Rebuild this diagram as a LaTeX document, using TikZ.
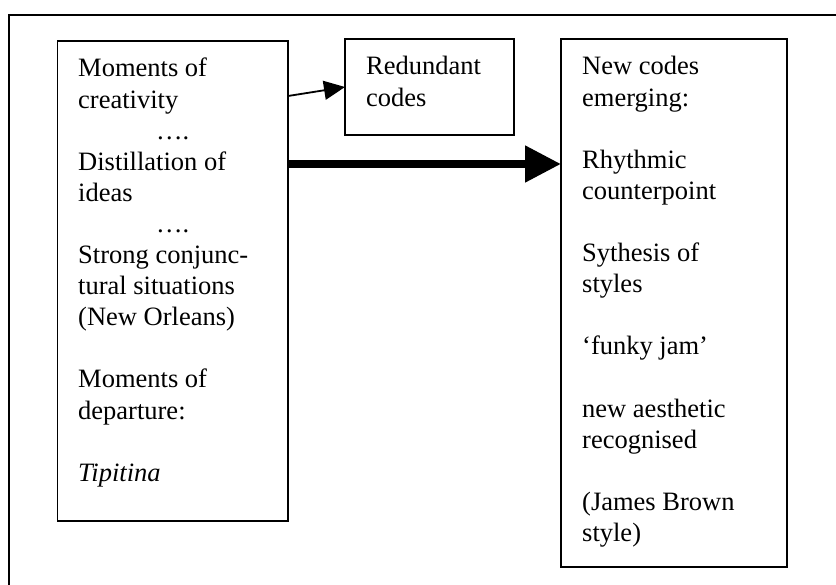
\documentclass[tikz,border=0pt]{standalone}
\usepackage{fontspec}
\setmainfont{Liberation Serif}
\usetikzlibrary{arrows.meta}
% stack of left-aligned lines, baseline at the first line
\newcommand\linestack[1]{\vtop{\halign{##\hfil\cr#1\crcr}}}
\tikzset{
  panel/.style={draw, line width=1.8pt, inner sep=0pt, outer sep=0pt, anchor=north west},
  txt/.style={anchor=base west, inner sep=0pt, font=\fontsize{26.5pt}{31.1pt}\selectfont},
  thinarrow/.style={line width=1.8pt, -{Triangle[length=21pt,width=19pt]}},
  thickarrow/.style={line width=8pt, -{Triangle[length=36pt,width=35pt]}}
}
\begin{document}
\begin{tikzpicture}[x=1pt,y=-1pt]
\useasboundingbox (0,0) rectangle (836,585);
% outer frame (runs off the page at right and bottom)
\draw[line width=1.8pt] (9,585) -- (9,15) -- (836,15);

% boxes
\node[panel, minimum width=230.5pt, minimum height=480pt] (L) at (57.5,41) {};
\node[panel, minimum width=169pt, minimum height=96pt] (R) at (345,39) {};
\node[panel, minimum width=226pt, minimum height=528pt] (N) at (561,39) {};

% texts
\node[txt] (Ltext) at (78,77) {\linestack{%
  Moments of\cr
  creativity\cr
  \kern78pt ….\cr
  Distillation of\cr
  ideas\cr
  \kern78pt ….\cr
  Strong conjunc-\cr
  tural situations\cr
  (New Orleans)\cr
  \cr
  Moments of\cr
  departure:\cr
  \cr
  \textit{Tipitina}}};
\node[txt] (Rtext) at (366,75) {\linestack{%
  Redundant\cr
  codes}};
\node[txt] (Ntext) at (582,75) {\linestack{%
  New codes\cr
  emerging:\cr
  \cr
  Rhythmic\cr
  counterpoint\cr
  \cr
  Sythesis of\cr
  styles\cr
  \cr
  ‘funky jam’\cr
  \cr
  new aesthetic\cr
  recognised\cr
  \cr
  (James Brown\cr
  style)}};

% connectors
\draw[thinarrow] ([yshift=-55pt]L.north east) -- (R.west);
\draw[thickarrow] ([yshift=-123pt]L.north east) -- ([yshift=-125pt]N.north west);
\end{tikzpicture}
\end{document}
